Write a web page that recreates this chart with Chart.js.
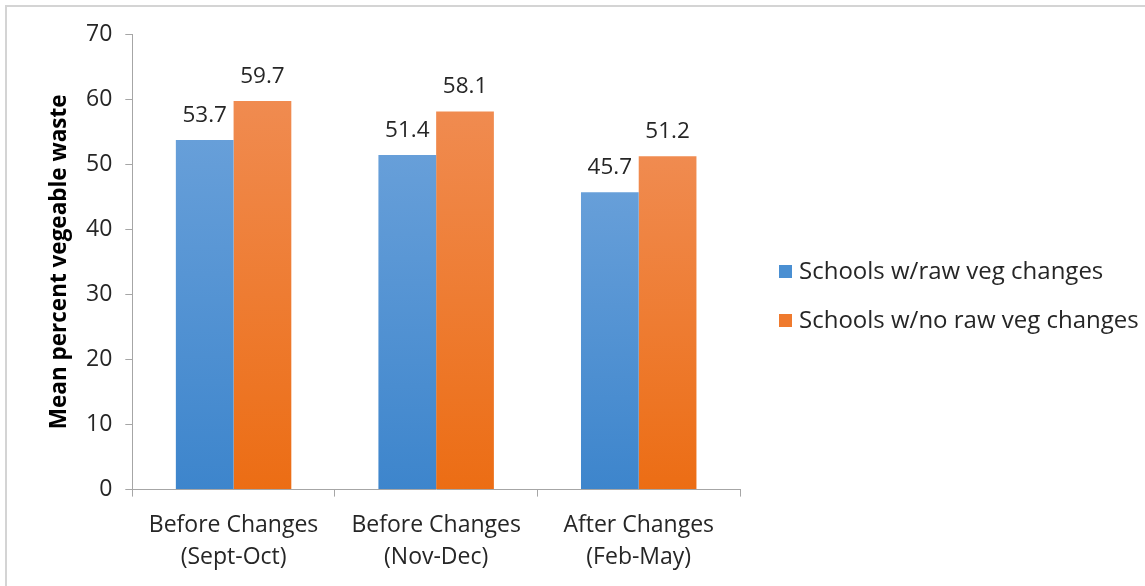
<!DOCTYPE html>
<html>
<head>
<meta charset="utf-8">
<script src="https://cdn.jsdelivr.net/npm/chart.js@4/dist/chart.umd.min.js"></script>
<style>
  html, body { margin: 0; padding: 0; background: #fff; }
  #wrap { position: relative; width: 1145px; height: 586px; overflow: hidden; }
  #frame { position: absolute; left: 5px; top: 5px; width: 1150px; height: 590px; border-top: 2px solid #d4d4d4; border-left: 2px solid #d4d4d4; }
  canvas { position: absolute; left: 0; top: 0; }
  .pre { font-family: 'Open Sans'; position: absolute; left: -9999px; }
</style>
</head>
<body>
<div id="wrap">
  <div id="frame"></div>
  <canvas id="c" width="1145" height="586"></canvas>
</div>
<span class="pre">a</span><span class="pre" style="font-weight:bold">a</span>
<script>
const categories = [["Before Changes", "(Sept-Oct)"], ["Before Changes", "(Nov-Dec)"], ["After Changes", "(Feb-May)"]];
const seriesNames = ["Schools w/raw veg changes", "Schools w/no raw veg changes"];
const rawVegValues = [53.7, 51.4, 45.7];
const noRawVegValues = [59.7, 58.1, 51.2];
const yTicks = [0, 10, 20, 30, 40, 50, 60, 70];
const yTitle = "Mean percent vegeable waste";

const FONT = "Open Sans";

function barGradient(top, bottom) {
  return function(ctx) {
    const chart = ctx.chart;
    const area = chart.chartArea;
    if (!area || ctx.type !== 'data') return top;
    const y = chart.scales.y;
    const yTop = y.getPixelForValue(ctx.raw);
    const yBot = y.getPixelForValue(0);
    const g = chart.ctx.createLinearGradient(0, yTop, 0, yBot);
    g.addColorStop(0, top);
    g.addColorStop(1, bottom);
    return g;
  };
}

const valueLabels = {
  id: 'valueLabels',
  afterDatasetsDraw(chart) {
    const ctx = chart.ctx;
    ctx.save();
    ctx.font = "22.5px '" + FONT + "'";
    ctx.fillStyle = '#262626';
    ctx.textAlign = 'center';
    ctx.textBaseline = 'alphabetic';
    chart.data.datasets.forEach((ds, i) => {
      const meta = chart.getDatasetMeta(i);
      meta.data.forEach((bar, j) => {
        ctx.fillText(ds.data[j].toFixed(1), bar.x, bar.y - 18);
      });
    });
    ctx.restore();
  }
};

// legend drawn to the right of the plot area from the dataset labels/colours
const sideLegend = {
  id: 'sideLegend',
  afterDraw(chart) {
    const ctx = chart.ctx;
    const area = chart.chartArea;
    const x0 = area.right + 39;
    const yMid = chart.height / 2 + 3;
    const gap = 49;
    const n = chart.data.datasets.length;
    ctx.save();
    ctx.font = "24px '" + FONT + "'";
    ctx.textBaseline = 'middle';
    ctx.textAlign = 'left';
    chart.data.datasets.forEach((ds, i) => {
      const cy = yMid + (i - (n - 1) / 2) * gap;
      ctx.fillStyle = ds.legendColor;
      ctx.fillRect(x0, cy - 6.5, 13, 13);
      ctx.fillStyle = '#262626';
      ctx.fillText(ds.label, x0 + 20, cy + 1);
    });
    ctx.restore();
  }
};

function build() {
  new Chart(document.getElementById('c'), {
    type: 'bar',
    data: {
      labels: categories,
      datasets: [
        { label: seriesNames[0], data: rawVegValues, backgroundColor: barGradient('#679fd9', '#3d85cc'), legendColor: '#4a8fd2' },
        { label: seriesNames[1], data: noRawVegValues, backgroundColor: barGradient('#f08b50', '#ec6d14'), legendColor: '#ef7a2e' }
      ]
    },
    options: {
      responsive: false,
      animation: false,
      layout: { padding: { top: 34, bottom: -1, left: 46, right: 405 } },
      datasets: { bar: { categoryPercentage: 0.57, barPercentage: 1.0 } },
      plugins: {
        tooltip: { enabled: false },
        legend: { display: false }
      },
      scales: {
        x: {
          offset: true,
          grid: { offset: true, drawOnChartArea: false, drawTicks: true, tickLength: 7, color: '#a6a6a6', lineWidth: 1 },
          border: { color: '#a6a6a6', width: 1 },
          ticks: { font: { family: FONT, size: 23, lineHeight: 1.4 }, color: '#262626', padding: 13, maxRotation: 0 }
        },
        y: {
          min: 0, max: 70,
          afterBuildTicks(scale) { scale.ticks = yTicks.map(v => ({ value: v })); },
          grid: { drawOnChartArea: false, drawTicks: true, tickLength: 7, color: '#a6a6a6' },
          border: { color: '#a6a6a6', width: 1 },
          ticks: { font: { family: FONT, size: 23 }, color: '#262626', padding: 13 },
          title: { display: true, text: yTitle, font: { family: FONT, size: 22.5, weight: 'bold' }, color: '#000', padding: { top: 0, bottom: 0 } }
        }
      }
    },
    plugins: [valueLabels, sideLegend]
  });
}

Promise.all([
  document.fonts.load("20px 'Open Sans'"),
  document.fonts.load("bold 20px 'Open Sans'")
]).then(build, build);
</script>
</body>
</html>
